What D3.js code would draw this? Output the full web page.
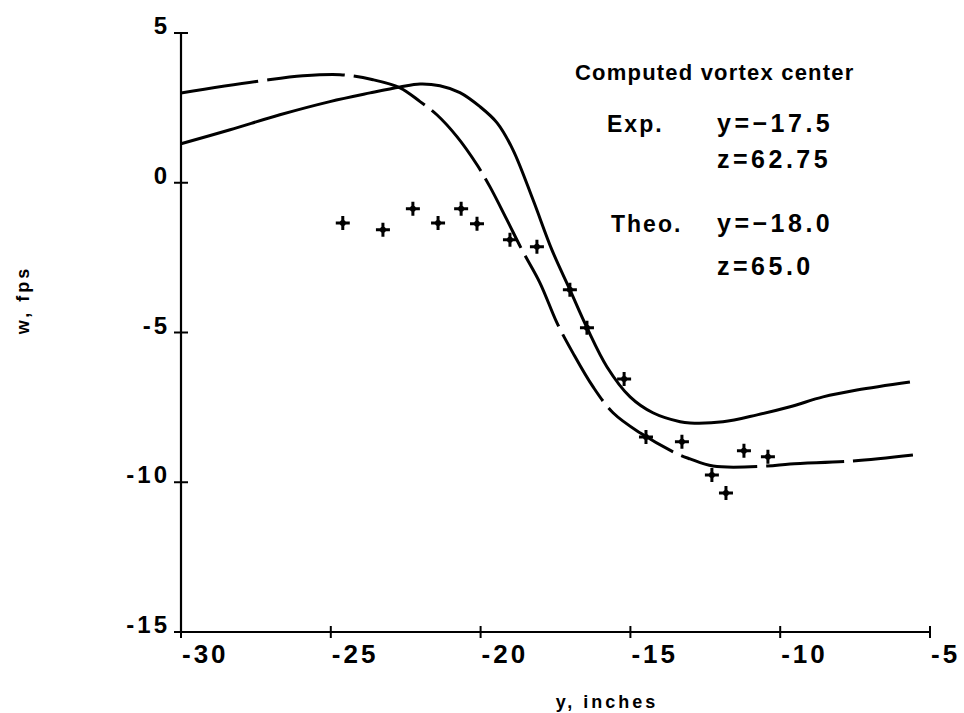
<!DOCTYPE html>
<html>
<head>
<meta charset="utf-8">
<script src="https://cdn.jsdelivr.net/npm/d3@7"></script>
<style>
  html, body { margin: 0; padding: 0; background: #fff; }
  svg { display: block; }
  text { font-family: "Liberation Sans", Arial, sans-serif; font-weight: 700; fill: #000; }
</style>
</head>
<body>
<svg id="chart" width="964" height="713"></svg>
<script>
// ---- data ----
const xTicks = [-30, -25, -20, -15, -10, -5];
const yTicks = [5, 0, -5, -10, -15];
const xTickLabels = ["-30", "-25", "-20", "-15", "-10", "-5"];
const yTickLabels = ["5", "0", "-5", "-10", "-15"];

// solid curve
const solidX = [-30, -28.36, -26.7, -25.03, -23.69, -22.69, -22.02, -21.36, -20.69, -20.02, -19.45, -18.92, -18.25, -17.62, -17.02, -16.45, -15.78, -15.01, -14.25, -13.34, -13.01, -11.91, -10.77, -9.67, -8.57, -7.44, -5.67];
const solidY = [1.3, 1.77, 2.27, 2.71, 3.0, 3.2, 3.3, 3.24, 3.01, 2.54, 2.0, 1.1, -0.57, -2.24, -3.57, -4.84, -6.15, -7.15, -7.68, -7.98, -8.02, -7.98, -7.75, -7.48, -7.15, -6.92, -6.65];

// dashed curve
const dashX = [-30, -27.26, -25.93, -24.69, -23.59, -22.69, -22.02, -21.46, -20.79, -20.12, -19.69, -19.12, -18.62, -18.02, -17.45, -16.92, -16.25, -15.58, -14.68, -13.44, -13.01, -12.24, -10.44, -9.67, -7.57, -5.57];
const dashY = [3.0, 3.41, 3.57, 3.61, 3.44, 3.17, 2.71, 2.27, 1.54, 0.6, -0.13, -1.24, -2.24, -3.34, -4.68, -5.68, -6.81, -7.68, -8.35, -9.05, -9.22, -9.46, -9.46, -9.39, -9.29, -9.09];

// measured points (crosses)
const expX = [-24.6, -23.26, -22.26, -21.42, -20.65, -20.12, -19.02, -18.12, -17.02, -16.45, -15.21, -14.48, -13.28, -11.21, -10.41, -12.28, -11.81];
const expY = [-1.34, -1.57, -0.87, -1.34, -0.87, -1.37, -1.9, -2.14, -3.57, -4.84, -6.55, -8.49, -8.65, -8.95, -9.15, -9.76, -10.36];

const annoTitle = "Computed vortex center";
const annoLines = [
  ["Exp.", "y=\u221217.5"],
  ["", "z=62.75"],
  ["Theo.", "y=\u221218.0"],
  ["", "z=65.0"]
];

// ---- chart ----
const svg = d3.select("#chart");
const x = d3.scaleLinear().domain([-30, -5]).range([181, 930]);
const y = d3.scaleLinear().domain([-15, 5]).range([632, 33]);

// axes lines
svg.append("line").attr("x1", x(-30)).attr("x2", x(-30)).attr("y1", y(5) + 1).attr("y2", y(-15))
  .attr("stroke", "#000").attr("stroke-width", 2.2);
svg.append("line").attr("x1", x(-30)).attr("x2", x(-5)).attr("y1", y(-15)).attr("y2", y(-15))
  .attr("stroke", "#000").attr("stroke-width", 2.2);

// y ticks (crosses)
svg.selectAll(".yt").data(yTicks).enter().append("line")
  .attr("x1", (d) => x(-30) - 7).attr("x2", (d) => x(-30) + 7)
  .attr("y1", (d) => y(d)).attr("y2", (d) => y(d))
  .attr("stroke", "#000").attr("stroke-width", 2);
// x ticks
svg.selectAll(".xt").data(xTicks).enter().append("line")
  .attr("x1", (d) => x(d)).attr("x2", (d) => x(d))
  .attr("y1", (d) => y(-15) - 6).attr("y2", (d) => y(-15) + 6)
  .attr("stroke", "#000").attr("stroke-width", 2);

// tick labels
svg.selectAll(".yl").data(yTicks).enter().append("text")
  .attr("x", x(-30) - 11).attr("y", (d) => y(d) + 1)
  .attr("text-anchor", "end").attr("font-size", 24).attr("letter-spacing", 3)
  .text((d, i) => yTickLabels[i]);
svg.selectAll(".xl").data(xTicks).enter().append("text")
  .attr("x", (d) => x(d) + 1).attr("y", y(-15) + 31)
  .attr("text-anchor", "start").attr("font-size", 26).attr("letter-spacing", 3)
  .text((d, i) => xTickLabels[i]);

// axis titles
svg.append("text").attr("x", 607).attr("y", 708).attr("text-anchor", "middle")
  .attr("font-size", 18).attr("letter-spacing", 3).text("y, inches");
svg.append("text").attr("transform", "translate(29,300) rotate(-90)").attr("text-anchor", "middle")
  .attr("font-size", 18).attr("letter-spacing", 3).text("w, fps");

// curves
const line = d3.line().x((d) => x(d[0])).y((d) => y(d[1])).curve(d3.curveCatmullRom.alpha(0.5));
svg.append("path").datum(solidX.map((v, i) => [v, solidY[i]]))
  .attr("d", line).attr("fill", "none").attr("stroke", "#000").attr("stroke-width", 3);
svg.append("path").datum(dashX.map((v, i) => [v, dashY[i]]))
  .attr("d", line).attr("fill", "none").attr("stroke", "#000").attr("stroke-width", 3)
  .attr("stroke-dasharray", "78,9");

// crosses
const cross = "M-7,0 L7,0 M0,-7 L0,7";
svg.selectAll(".pt").data(expX.map((v, i) => [v, expY[i]])).enter().append("path")
  .attr("transform", (d) => `translate(${x(d[0])},${y(d[1])})`)
  .attr("d", cross).attr("stroke", "#000").attr("stroke-width", 3);
svg.selectAll(".ptc").data(expX.map((v, i) => [v, expY[i]])).enter().append("circle")
  .attr("cx", (d) => x(d[0])).attr("cy", (d) => y(d[1])).attr("r", 3).attr("fill", "#000");

// annotation
svg.append("text").attr("x", 575).attr("y", 80).attr("font-size", 22).attr("letter-spacing", 1.2).text(annoTitle);
const annoY = [132, 168, 232, 275];
annoLines.forEach((l, i) => {
  if (l[0]) svg.append("text").attr("x", i === 0 ? 607 : 611).attr("y", annoY[i]).attr("font-size", 23).attr("letter-spacing", 2).text(l[0]);
  svg.append("text").attr("x", 717).attr("y", annoY[i]).attr("font-size", 25).attr("letter-spacing", 3.5).text(l[1]);
});
</script>
</body>
</html>
